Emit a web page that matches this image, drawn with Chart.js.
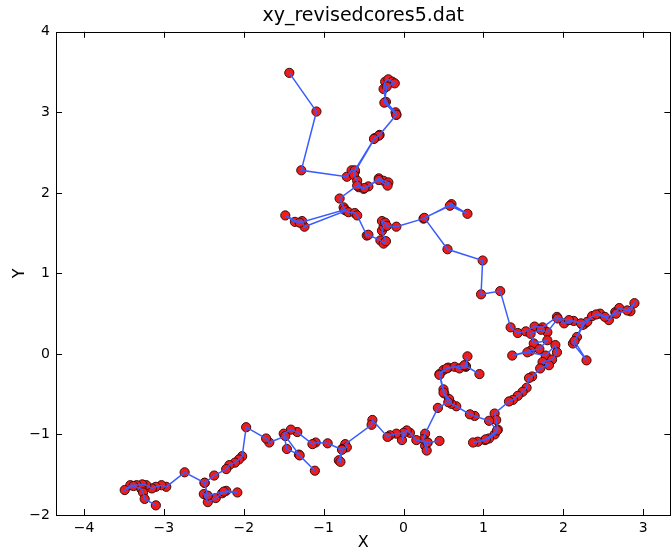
<!DOCTYPE html>
<html>
<head>
<meta charset="utf-8">
<script src="https://cdn.jsdelivr.net/npm/chart.js@4/dist/chart.umd.min.js"></script>
<style>
  html, body { margin: 0; padding: 0; background: #fff; overflow: hidden; }
  canvas { display: block; }
</style>
</head>
<body>
<canvas id="xyChart" width="676" height="552"></canvas>
<script>
// ---------------- data ----------------
const TITLE = 'xy_revisedcores5.dat';

const walkX = [
  -1.43, -1.09, -1.28, -0.71, -0.65, -0.61, -0.36, -0.30, -0.09, -0.10,
  -0.22, -0.25, -0.23, -0.19, -0.14, -0.11, -0.21, -0.24, -0.09, -0.31,
  -0.37, -0.61, -0.62, -0.58, -0.56, -0.50, -0.44, -0.31, -0.25, -0.19,
  -0.20, -0.31, -0.49, -0.58, -0.80, -0.75, -0.72, -1.24, -1.27, -1.36,
  -1.48, -1.30, -0.74, -0.69, -0.61, -0.58, -0.46, -0.44, -0.29, -0.25,
  -0.22, -0.27, -0.25, -0.27, -0.23, -0.21, -0.09, 0.25, 0.60, 0.80,
  0.58, 0.26, 0.55, 0.99, 0.97, 1.21, 1.34, 1.43, 1.53, 1.64,
  1.74, 1.92, 2.01, 2.13, 2.26, 2.17, 2.12, 2.29, 2.14, 2.24,
  2.30, 2.36, 2.46, 2.57, 2.65, 2.70, 2.84, 2.89, 2.80, 2.66,
  2.52, 2.41, 2.22, 2.07, 1.93, 1.80, 1.72, 1.59, 1.63, 1.80,
  1.70, 1.59, 1.36, 1.55, 1.78, 1.90, 1.92, 1.86, 1.74, 1.82,
  1.71, 1.61, 1.57, 1.54, 1.49, 1.43, 1.37, 1.32, 1.14, 1.16,
  1.18, 1.14, 1.07, 1.02, 0.93, 0.87, 1.03, 1.17, 1.07, 0.89,
  0.83, 0.66, 0.60, 0.57, 0.51, 0.50, 0.45, 0.50, 0.56, 0.64,
  0.70, 0.78, 0.80, 0.78, 0.95, 0.76, 0.54, 0.45, 0.50, 0.56,
  0.43, 0.27, 0.25, 0.27, 0.29, 0.30, 0.45, 0.30, 0.16, 0.08,
  0.04, -0.02, 0.00, -0.09, -0.17, -0.20, -0.39, -0.40, -0.73, -0.71,
  -0.77, -0.81, -0.79, -0.77, -0.95, -1.10, -1.14, -1.33, -1.41, -1.50,
  -1.46, -1.31, -1.11, -1.30, -1.48, -1.68, -1.72, -1.97, -2.02, -2.06,
  -2.11, -2.18, -2.22, -2.37, -2.49, -2.45, -2.50, -2.45, -2.35, -2.27,
  -2.22, -2.08, -2.25, -2.45, -2.49, -2.74, -2.97, -3.03, -3.10, -3.15,
  -3.22, -3.27, -3.34, -3.42, -3.49, -3.38, -3.28, -3.26, -3.24, -3.10
];

const walkY = [
  3.49, 3.01, 2.28, 2.20, 2.28, 2.26, 2.68, 2.72, 2.97, 3.00,
  3.13, 3.29, 3.38, 3.41, 3.38, 3.36, 3.32, 3.12, 2.97, 2.71,
  2.67, 2.28, 2.22, 2.15, 2.07, 2.05, 2.08, 2.18, 2.15, 2.13,
  2.09, 2.16, 2.06, 2.09, 1.93, 1.82, 1.78, 1.58, 1.65, 1.64,
  1.72, 1.63, 1.79, 1.76, 1.75, 1.72, 1.47, 1.48, 1.41, 1.37,
  1.40, 1.53, 1.58, 1.65, 1.63, 1.59, 1.58, 1.68, 1.86, 1.74,
  1.84, 1.69, 1.30, 1.16, 0.74, 0.78, 0.33, 0.26, 0.28, 0.34,
  0.33, 0.46, 0.38, 0.41, 0.37, 0.21, 0.13, -0.08, 0.16, 0.36,
  0.40, 0.47, 0.50, 0.42, 0.52, 0.57, 0.53, 0.63, 0.54, 0.50,
  0.46, 0.49, 0.38, 0.42, 0.44, 0.27, 0.30, 0.25, 0.13, 0.17,
  0.06, 0.04, -0.02, 0.02, -0.02, 0.11, 0.02, -0.07, -0.10, -0.14,
  -0.18, -0.28, -0.30, -0.42, -0.47, -0.52, -0.57, -0.59, -0.74, -0.82,
  -0.94, -1.00, -1.05, -1.07, -1.09, -1.10, -1.06, -0.95, -0.83, -0.77,
  -0.75, -0.65, -0.62, -0.56, -0.49, -0.44, -0.25, -0.20, -0.17, -0.16,
  -0.18, -0.16, -0.03, -0.15, -0.25, -0.14, -0.18, -0.26, -0.48, -0.60,
  -0.67, -0.99, -1.06, -1.14, -1.20, -1.10, -1.08, -1.10, -1.07, -0.98,
  -0.95, -1.07, -0.98, -0.99, -1.01, -1.03, -0.82, -0.88, -1.12, -1.16,
  -1.18, -1.32, -1.34, -1.19, -1.11, -1.10, -1.12, -0.97, -0.94, -0.99,
  -1.18, -1.25, -1.45, -1.26, -1.02, -1.10, -1.05, -0.91, -1.27, -1.31,
  -1.35, -1.38, -1.43, -1.51, -1.60, -1.77, -1.74, -1.84, -1.79, -1.73,
  -1.70, -1.72, -1.71, -1.76, -1.60, -1.47, -1.65, -1.63, -1.65, -1.67,
  -1.63, -1.62, -1.63, -1.63, -1.69, -1.64, -1.68, -1.72, -1.80, -1.88
];

const xTickValues = [-4, -3, -2, -1, 0, 1, 2, 3];
const yTickValues = [-2, -1, 0, 1, 2, 3, 4];
const xRange = [-4.35, 3.34];
const yRange = [-2, 4];

// ---------------- helpers ----------------
const FONT = "'DejaVu Sans', 'Liberation Sans', sans-serif";
const points = walkX.map((x, i) => ({ x: x, y: walkY[i] }));

function minusLabel(value) {
    return String(value).replace('-', '\u2212');
}

// matplotlib style frame with inward ticks on every side
const frameTicks = {
    id: 'frameTicks',
    afterDatasetsDraw(chart) {
        const { ctx, chartArea: a, scales } = chart;
        const len = 6;
        ctx.save();
        ctx.strokeStyle = '#000';
        ctx.lineWidth = 1;
        ctx.beginPath();
        xTickValues.forEach(v => {
            const px = Math.round(scales.x.getPixelForValue(v)) + 0.5;
            ctx.moveTo(px, a.bottom); ctx.lineTo(px, a.bottom - len);
            ctx.moveTo(px, a.top); ctx.lineTo(px, a.top + len);
        });
        yTickValues.forEach(v => {
            const py = Math.round(scales.y.getPixelForValue(v)) + 0.5;
            ctx.moveTo(a.left, py); ctx.lineTo(a.left + len, py);
            ctx.moveTo(a.right, py); ctx.lineTo(a.right - len, py);
        });
        ctx.stroke();
        ctx.strokeRect(Math.round(a.left) + 0.5, Math.round(a.top) + 0.5,
                       Math.round(a.right - a.left), Math.round(a.bottom - a.top));
        ctx.restore();
    }
};

// ---------------- chart ----------------
new Chart(document.getElementById('xyChart'), {
    type: 'scatter',
    data: {
        datasets: [
            {
                label: 'path',
                data: points,
                showLine: true,
                borderColor: '#3a5cff',
                borderWidth: 1.5,
                pointRadius: 0,
                fill: false,
                order: 0
            },
            {
                label: 'points',
                data: points,
                showLine: false,
                pointRadius: 4.6,
                pointBackgroundColor: '#f01c1c',
                pointBorderColor: '#3a0c0c',
                pointBorderWidth: 1,
                order: 1
            }
        ]
    },
    plugins: [frameTicks],
    options: {
        responsive: false,
        devicePixelRatio: 1,
        animation: false,
        layout: { padding: { left: 0, right: 2, top: 0, bottom: 0 } },
        plugins: {
            legend: { display: false },
            tooltip: { enabled: false },
            title: {
                display: true,
                text: TITLE,
                fullSize: false,
                color: '#000',
                font: { family: FONT, size: 19, weight: 'normal' },
                padding: { top: 5, bottom: 4 }
            }
        },
        scales: {
            x: {
                type: 'linear',
                min: xRange[0],
                max: xRange[1],
                afterBuildTicks: (scale) => { scale.ticks = xTickValues.map(v => ({ value: v })); },
                afterFit: (scale) => { scale.height = 37; },
                grid: { display: false, drawTicks: false },
                border: { display: false },
                ticks: {
                    color: '#000',
                    padding: 5,
                    font: { family: FONT, size: 14 },
                    callback: (v) => minusLabel(v)
                },
                title: {
                    display: true,
                    text: 'X',
                    color: '#000',
                    font: { family: FONT, size: 16 },
                    padding: { top: 0, bottom: 0 }
                }
            },
            y: {
                type: 'linear',
                min: yRange[0],
                max: yRange[1],
                afterBuildTicks: (scale) => { scale.ticks = yTickValues.map(v => ({ value: v })); },
                afterFit: (scale) => { scale.width = 56; },
                grid: { display: false, drawTicks: false },
                border: { display: false },
                ticks: {
                    color: '#000',
                    padding: 6,
                    font: { family: FONT, size: 14 },
                    callback: (v) => minusLabel(v)
                },
                title: {
                    display: true,
                    text: 'Y',
                    color: '#000',
                    font: { family: FONT, size: 16 },
                    padding: { top: 10, bottom: 0 }
                }
            }
        }
    }
});
</script>
</body>
</html>
